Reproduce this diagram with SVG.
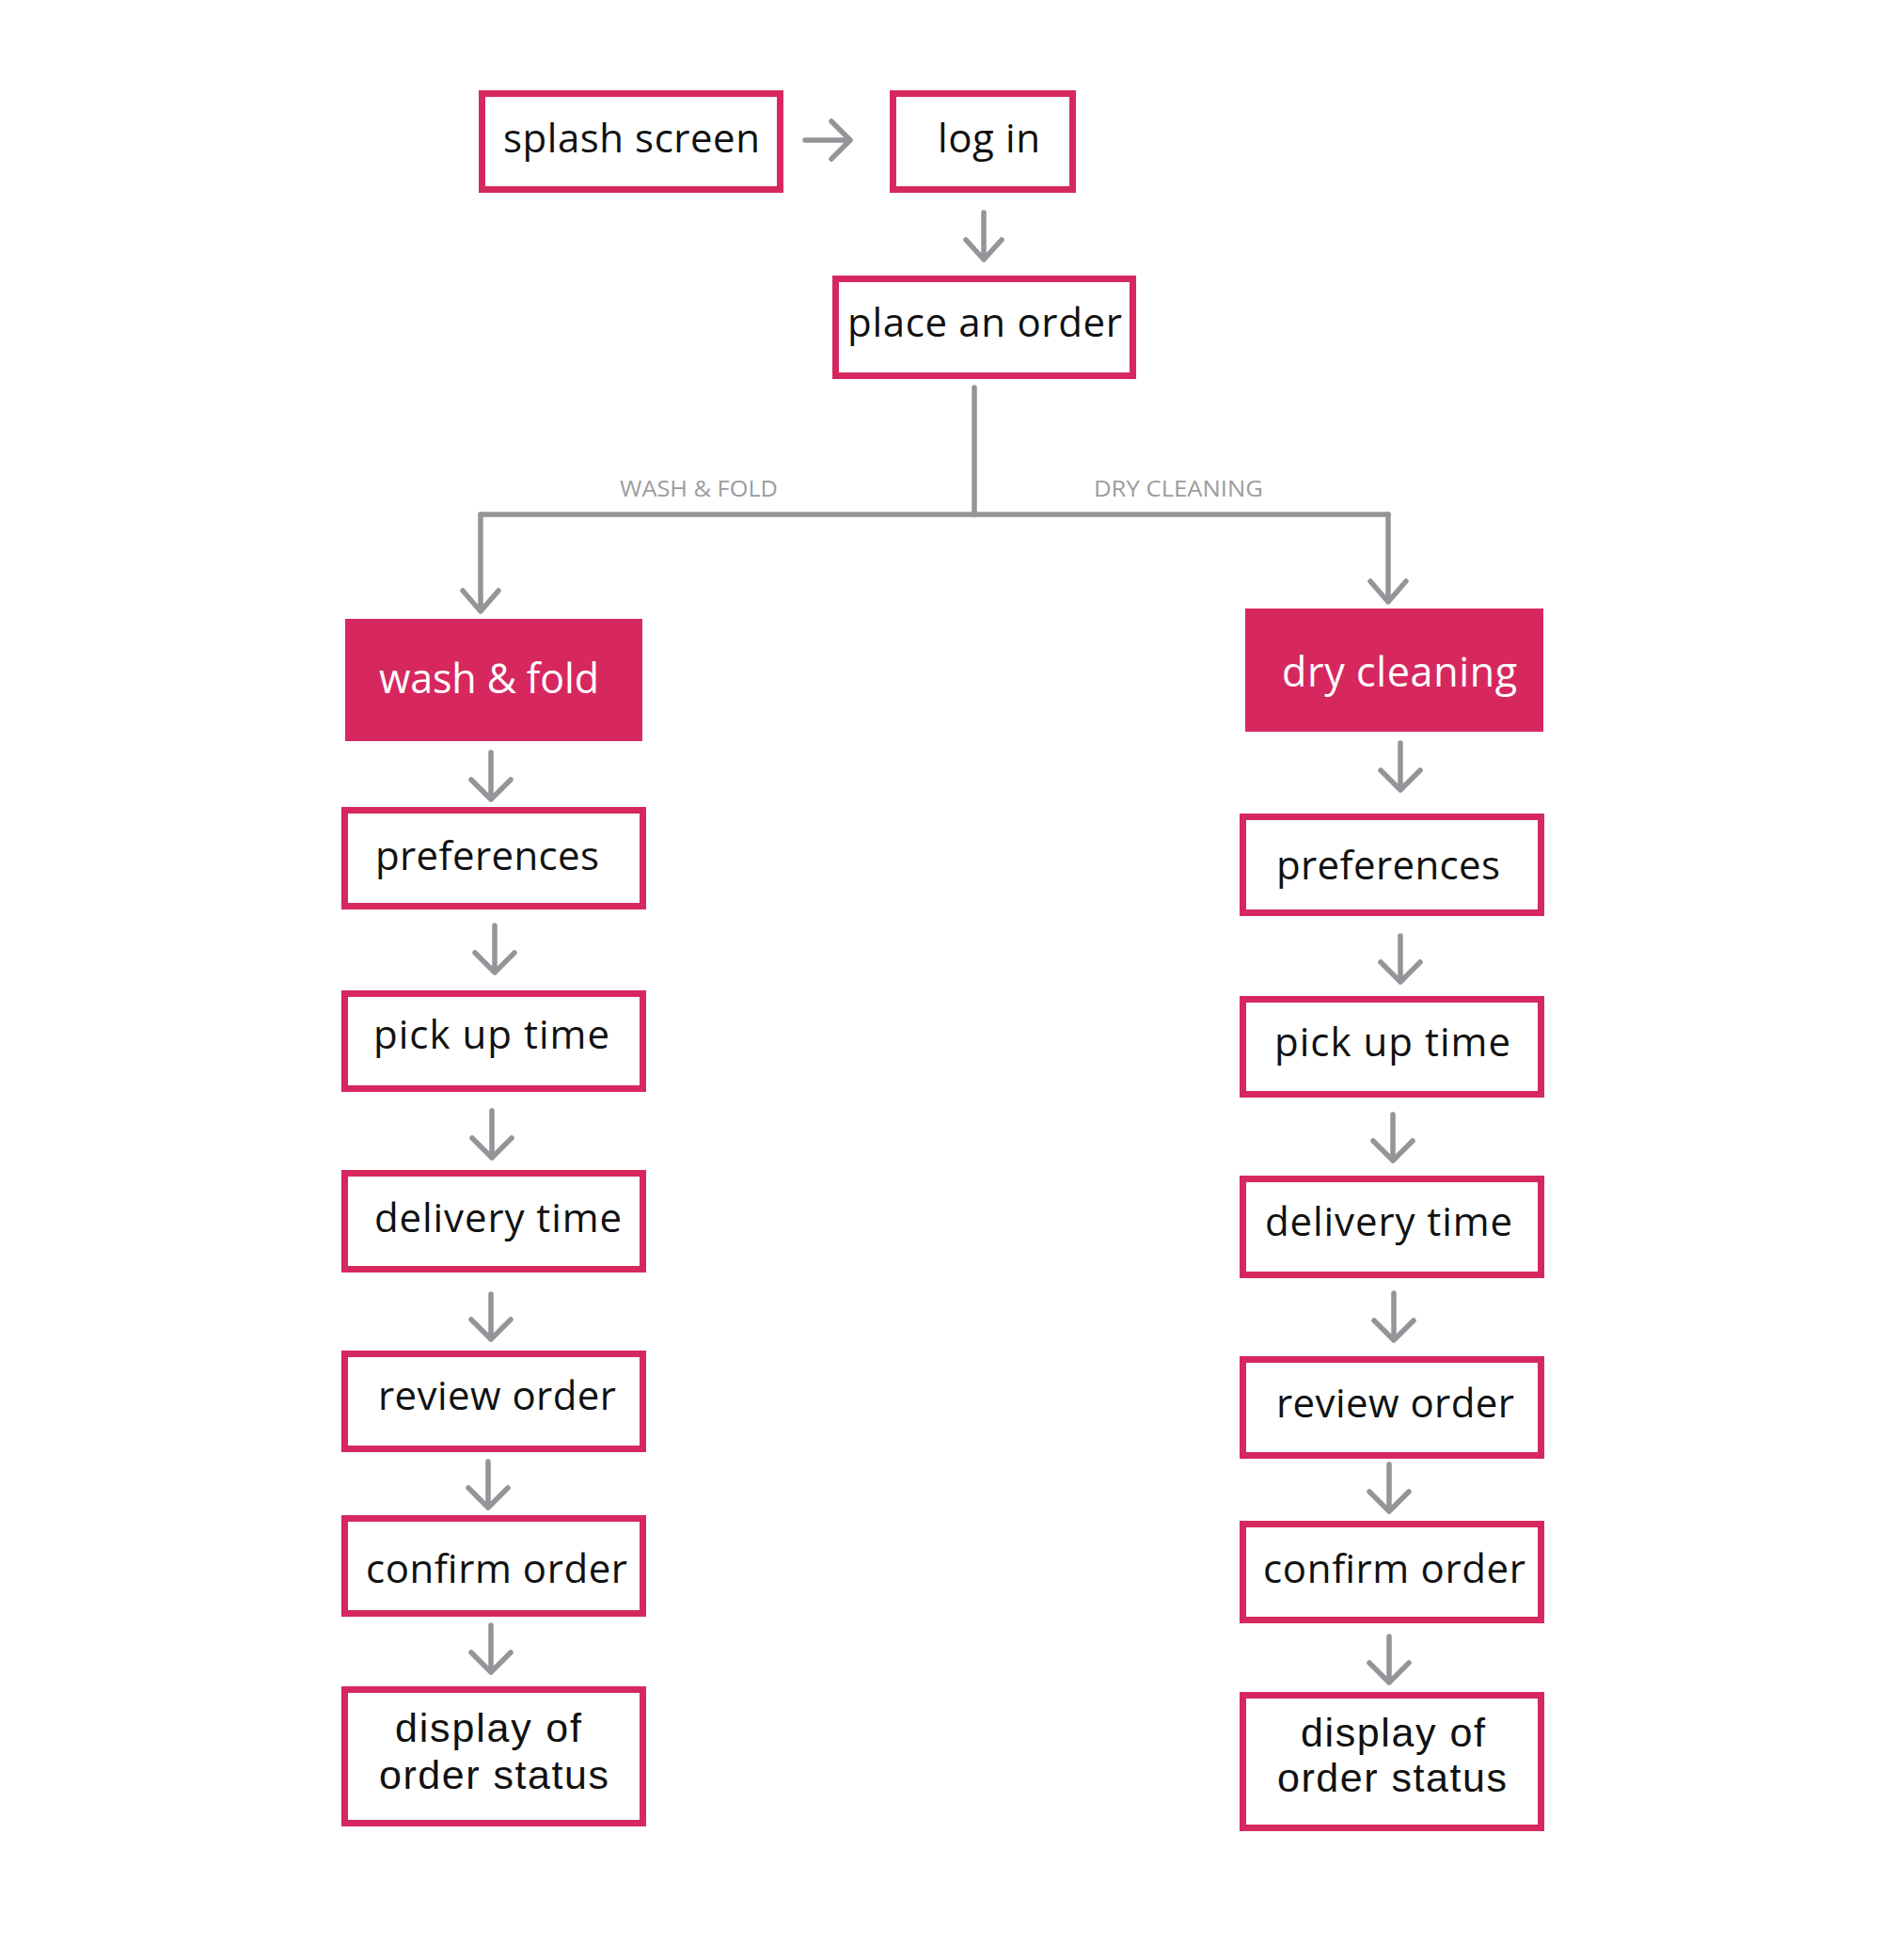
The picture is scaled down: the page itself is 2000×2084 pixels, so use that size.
<svg xmlns="http://www.w3.org/2000/svg" width="2000" height="2084" viewBox="0 0 2000 2084">
<style>
.box{fill:#ffffff;stroke:#d6285f;stroke-width:7}
.fill{fill:#d6285f}
.t{font-family:"Open Sans","Liberation Sans",sans-serif;font-size:42px;fill:#111111}
.t2{font-family:"Liberation Sans",Arial,sans-serif;font-size:43px;fill:#111111}
.tw{font-family:"Open Sans","Liberation Sans",sans-serif;font-size:43px;fill:#ffffff}
.lbl{font-family:"Open Sans","Liberation Sans",sans-serif;font-size:24px;fill:#9b9da0}
.arr{fill:none;stroke:#939598;stroke-width:5.5;stroke-linecap:round;stroke-linejoin:round}
</style>
<rect width="2000" height="2084" fill="#ffffff"/>
<g id="connectors">
<path class="arr" d="M856 149 H904 M884 129 L904 149 L884 169"/>
<path class="arr" d="M1046 226 V276 M1027 255 L1046 276 L1065 255"/>
<path class="arr" d="M1036 412 V547"/>
<path class="arr" d="M511 547 H1476"/>
<path class="arr" d="M511 547 V650 M492 628 L511 650 L530 628"/>
<path class="arr" d="M1476 547 V640 M1457 618 L1476 640 L1495 618"/>
<path class="arr" d="M522 800 V850 M501 829 L522 850 L543 829"/>
<path class="arr" d="M526 984 V1034 M505 1013 L526 1034 L547 1013"/>
<path class="arr" d="M523 1181 V1231 M502 1210 L523 1231 L544 1210"/>
<path class="arr" d="M522 1376 V1424 M501 1403 L522 1424 L543 1403"/>
<path class="arr" d="M519 1554 V1603 M498 1582 L519 1603 L540 1582"/>
<path class="arr" d="M522 1728 V1778 M501 1757 L522 1778 L543 1757"/>
<path class="arr" d="M1489 790 V840 M1468 819 L1489 840 L1510 819"/>
<path class="arr" d="M1489 995 V1044 M1468 1023 L1489 1044 L1510 1023"/>
<path class="arr" d="M1481 1185 V1234 M1460 1213 L1481 1234 L1502 1213"/>
<path class="arr" d="M1482 1375 V1425 M1461 1404 L1482 1425 L1503 1404"/>
<path class="arr" d="M1477 1557 V1607 M1456 1586 L1477 1607 L1498 1586"/>
<path class="arr" d="M1477 1740 V1789 M1456 1768 L1477 1789 L1498 1768"/>
<text class="lbl" x="659" y="528" textLength="168" lengthAdjust="spacingAndGlyphs">WASH &amp; FOLD</text>
<text class="lbl" x="1163" y="528" textLength="180" lengthAdjust="spacingAndGlyphs">DRY CLEANING</text>
</g>
<g id="splash">
<rect class="box" x="512.5" y="99.5" width="317" height="102"/>
<text class="t" x="535" y="162" textLength="273">splash screen</text>
</g>
<g id="login">
<rect class="box" x="949.5" y="99.5" width="191" height="102"/>
<text class="t" x="997" y="162" textLength="109">log in</text>
</g>
<g id="place-order">
<rect class="box" x="888.5" y="296.5" width="316" height="103"/>
<text class="t" x="901" y="358" textLength="292">place an order</text>
</g>
<g id="wash-fold">
<rect class="fill" x="367" y="658" width="316" height="130"/>
<text class="tw" x="403" y="737" textLength="234">wash &amp; fold</text>
</g>
<g id="dry-cleaning">
<rect class="fill" x="1324" y="647" width="317" height="131"/>
<text class="tw" x="1363" y="730" textLength="250">dry cleaning</text>
</g>
<g id="wf-preferences">
<rect class="box" x="366.5" y="861.5" width="317" height="102"/>
<text class="t" x="399" y="925" textLength="238">preferences</text>
</g>
<g id="wf-pickup">
<rect class="box" x="366.5" y="1056.5" width="317" height="101"/>
<text class="t" x="397" y="1115" textLength="251">pick up time</text>
</g>
<g id="wf-delivery">
<rect class="box" x="366.5" y="1247.5" width="317" height="102"/>
<text class="t" x="398" y="1310" textLength="263">delivery time</text>
</g>
<g id="wf-review">
<rect class="box" x="366.5" y="1439.5" width="317" height="101"/>
<text class="t" x="402" y="1499" textLength="253">review order</text>
</g>
<g id="wf-confirm">
<rect class="box" x="366.5" y="1614.5" width="317" height="101"/>
<text class="t" x="389" y="1683" textLength="278">confirm order</text>
</g>
<g id="wf-status">
<rect class="box" x="366.5" y="1796.5" width="317" height="142"/>
<text class="t2" x="420" y="1852" textLength="198">display of</text>
<text class="t2" x="403" y="1902" textLength="244">order status</text>
</g>
<g id="dc-preferences">
<rect class="box" x="1321.5" y="868.5" width="317" height="102"/>
<text class="t" x="1357" y="935" textLength="238">preferences</text>
</g>
<g id="dc-pickup">
<rect class="box" x="1321.5" y="1062.5" width="317" height="101"/>
<text class="t" x="1355" y="1123" textLength="251">pick up time</text>
</g>
<g id="dc-delivery">
<rect class="box" x="1321.5" y="1253.5" width="317" height="102"/>
<text class="t" x="1345" y="1314" textLength="263">delivery time</text>
</g>
<g id="dc-review">
<rect class="box" x="1321.5" y="1445.5" width="317" height="102"/>
<text class="t" x="1357" y="1507" textLength="253">review order</text>
</g>
<g id="dc-confirm">
<rect class="box" x="1321.5" y="1620.5" width="317" height="102"/>
<text class="t" x="1343" y="1683" textLength="279">confirm order</text>
</g>
<g id="dc-status">
<rect class="box" x="1321.5" y="1802.5" width="317" height="141"/>
<text class="t2" x="1383" y="1857" textLength="196">display of</text>
<text class="t2" x="1358" y="1905" textLength="244">order status</text>
</g>
</svg>
